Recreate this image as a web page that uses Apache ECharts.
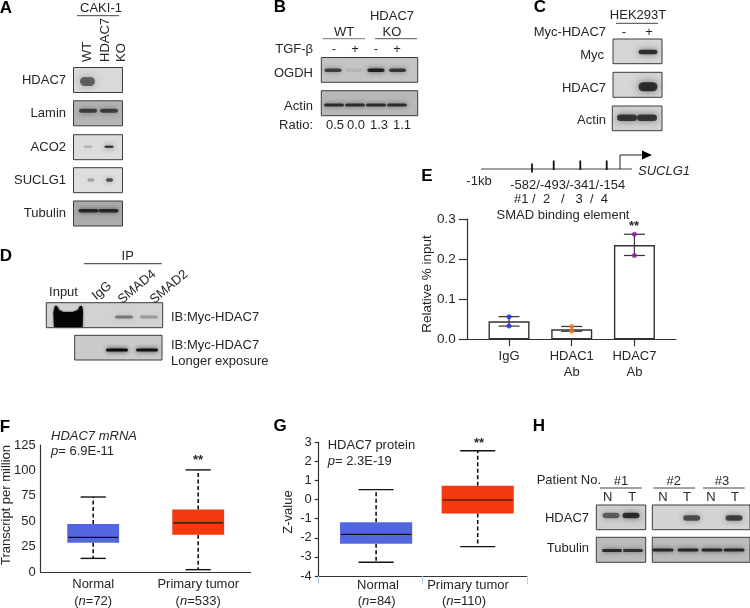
<!DOCTYPE html>
<html><head><meta charset="utf-8">
<style>html,body{margin:0;padding:0;background:#fff}#c{width:750px;height:608px}</style>
<script src="https://cdn.jsdelivr.net/npm/echarts@6/dist/echarts.min.js"></script>
</head><body><div id="c"></div>
<script>
// ---------- DATA ----------
// Panel E
const eCategories = ['IgG', 'HDAC1\nAb', 'HDAC7\nAb'];
const eMeans = [0.045, 0.025, 0.235];
const eHigh = [0.0565, 0.032, 0.262];
const eLow = [0.033, 0.020, 0.209];
const eColors = ['#1a30e8', '#f57a1f', '#8a1ea0'];
const eTicks = ['0.0', '0.1', '0.2', '0.3'];
// Panel F  [low, q1, median, q3, high]
const fCategories = ['Normal', 'Primary tumor'];
const fCounts = ['72', '533'];
const fNormal = [13.4, 28.7, 34, 47.3, 73.8];
const fTumor = [2.3, 36.6, 48.3, 61.4, 100.5];
// Panel G
const gCategories = ['Normal', 'Primary tumor'];
const gCounts = ['84', '110'];
const gNormal = [-3.28, -2.31, -1.82, -1.19, 0.52];
const gTumor = [-2.46, -0.73, -0.02, 0.73, 2.56];
// Blot band densities (0 = absent, 1 = black), one per lane
const aHDAC7 = [0.5, 0];
const aLamin = [0.62, 0.62];
const aACO2 = [0.2, 0.8];
const aSUCLG1 = [0.25, 0.6];
const aTubulin = [0.72, 0.72];
const bOGDH = [0.62, 0.08, 0.78, 0.66];
const bActin = [0.7, 0.7, 0.7, 0.7];
const cMyc = [0, 0.72];
const cHDAC7 = [0, 0.72];
const cActin = [0.68, 0.68];
const dShort = [0.4, 0.25];
const dLong = [0.92, 0.88];
const hHDAC7one = [0.5, 0.72];
const hHDAC7two = [0.58, 0.64];
const hTubulinOne = [0.72, 0.68];
const hTubulinTwo = [0.75, 0.75, 0.75, 0.75];

// ---------- drawing helpers ----------
const FONT = '"Liberation Sans", Arial, sans-serif';
const INK = '#262626';
const g = [];
function text(s, x, y, o) {
  o = o || {};
  g.push({ type: 'text', x, y, rotation: (o.rot || 0) * Math.PI / 180, z: 20, silent: true,
    style: { text: s, x: 0, y: 0, fill: o.fill || INK, align: o.align || 'center', verticalAlign: 'middle',
      font: `${o.italic ? 'italic ' : ''}${o.bold ? 'bold ' : ''}${o.size || 13}px ${FONT}` } });
}
function line(x1, y1, x2, y2, c, w) {
  g.push({ type: 'line', z: 15, silent: true, shape: { x1, y1, x2, y2 }, style: { stroke: c || '#444', lineWidth: w || 1 } });
}
function blot(x1, y1, x2, y2, bg) {
  g.push({ type: 'rect', z: 5, silent: true, shape: { x: x1, y: y1, width: x2 - x1, height: y2 - y1 },
    style: { fill: bg, stroke: '#3c3c3c', lineWidth: 1 } });
}
function band(cx, cy, w, h, density) {
  if (density <= 0.01) return;
  const col = `rgba(0,0,0,${density})`;
  g.push({ type: 'rect', z: 8, silent: true, shape: { x: cx - w / 2, y: cy - h / 2, width: w, height: h, r: h / 2 },
    style: { fill: col, shadowBlur: 4 + h * 0.5, shadowColor: col } });
}
function lanes(xs, y, w, h, dens) { xs.forEach((x, i) => band(x, y, w, h, dens[i])); }

// Panel letters
[['A', 6, 8], ['B', 280, 7], ['C', 540, 7], ['D', 6, 256], ['E', 427, 176], ['F', 5, 427], ['G', 280, 426], ['H', 539, 426]]
  .forEach(p => text(p[0], p[1], p[2], { bold: true, size: 17, fill: '#000' }));

// Panel A
text('CAKI-1', 101, 8); line(77, 15.7, 119, 15.7);
text('WT', 87, 62, { rot: 90, align: 'left' });
text('HDAC7', 105, 62, { rot: 90, align: 'left' });
text('KO', 121, 62, { rot: 90, align: 'left' });
[['HDAC7', 80, '#d9d9d9'], ['Lamin', 113.3, '#b4b4b4'], ['ACO2', 147.2, '#dcdcdc'], ['SUCLG1', 180.2, '#dedede'], ['Tubulin', 213.5, '#ababab']]
  .forEach(r => { text(r[0], 66, r[1], { align: 'right' }); blot(73.5, r[1] - 12.5, 122.5, r[1] + 12.5, r[2]); });
lanes([87.5, 115], 81.5, 15, 9, aHDAC7);
lanes([88, 109], 110.7, 18, 4, aLamin);
lanes([88, 109], 146.7, 9, 2, aACO2);
lanes([91, 109.5], 180, 7, 3.5, aSUCLG1);
lanes([88.5, 108.5], 210.8, 20, 3.5, aTubulin);

// Panel B
text('WT', 344, 32.5); text('HDAC7', 392, 16); text('KO', 392, 32.5);
line(322.7, 38.7, 365, 38.7, '#777'); line(375, 38.7, 417, 38.7, '#555');
text('TGF-β', 313, 49, { align: 'right' });
['-', '+', '-', '+'].forEach((s, i) => text(s, [334, 355, 376, 397][i], 49));
text('OGDH', 313, 73, { align: 'right' }); text('Actin', 313, 106, { align: 'right' });
text('Ratio:', 313, 125, { align: 'right' });
['0.5', '0.0', '1.3', '1.1'].forEach((s, i) => text(s, [335, 356, 379, 402][i], 125));
blot(321.3, 57.5, 417.7, 82.3, '#c4c4c4'); blot(321.3, 90.7, 417.7, 115.7, '#b8b8b8');
lanes([333, 354, 376, 397.5], 70.3, 17, 3.5, bOGDH);
lanes([334, 355, 376, 397], 105, 20, 3, bActin);

// Panel C
text('HEK293T', 638, 15.7); line(616, 23.3, 658, 23.3);
text('Myc-HDAC7', 606, 32, { align: 'right' });
text('-', 624, 32); text('+', 649, 32);
text('Myc', 604, 55, { align: 'right' }); text('HDAC7', 606, 88, { align: 'right' }); text('Actin', 606, 120, { align: 'right' });
blot(613, 39, 662, 63.7, '#d6d6d6'); blot(613, 72.3, 662, 97.3, '#d6d6d6'); blot(612.3, 106, 662, 130.7, '#d2d2d2');
lanes([625, 648], 52, 19, 4.5, cMyc);
lanes([625, 648], 86.7, 19, 9, cHDAC7);
lanes([627, 647], 117.7, 20, 6.5, cActin);

// Panel D
text('IP', 127.7, 256); line(84, 263.7, 161.7, 263.7, '#333');
text('Input', 63.5, 292);
text('IgG', 102, 291, { rot: 40 });
text('SMAD4', 137, 287, { rot: 40 });
text('SMAD2', 169, 287, { rot: 40 });
blot(46.3, 302.7, 162.7, 327.7, '#d2d2d2'); blot(74.7, 335.3, 162, 360, '#cbcbcb');
g.push({ type: 'polygon', z: 8, silent: true,
  shape: { points: [[54, 327], [53.5, 312], [55, 306], [57, 306], [59, 310], [63, 312], [73, 312], [78, 310], [80, 306], [82, 306], [83, 312], [82.5, 327]] },
  style: { fill: '#050505', shadowBlur: 2, shadowColor: '#111' } });
lanes([124, 149], 317, 18, 3, dShort);
lanes([117, 147], 350, 22, 3, dLong);
text('IB:Myc-HDAC7', 171, 317.3, { align: 'left' });
text('IB:Myc-HDAC7', 171, 345, { align: 'left' });
text('Longer exposure', 171, 361, { align: 'left' });

// Panel E promoter diagram
line(481, 169, 632, 169, '#444', 1);
[532, 553.7, 580.3, 606.7].forEach((x, i) => line(x, i === 0 ? 163.5 : 160.5, x, i === 0 ? 172.5 : 170, '#111', 1.8));
line(620, 169, 620, 155, '#222', 1); line(620, 155, 643, 155, '#222', 1);
g.push({ type: 'polygon', z: 15, silent: true, shape: { points: [[642, 150.5], [652, 155], [642, 159.5]] }, style: { fill: '#000' } });
text('SUCLG1', 638, 171, { align: 'left', italic: true });
text('-1kb', 479, 181);
text('-582/-493/-341/-154', 567.7, 185);
text('#1 /  2   /   3  /  4', 561, 199);
text('SMAD binding element', 563, 215);
text('**', 634, 226, { bold: true });
text('Relative % input', 427, 284, { rot: 90, size: 13.5 });

// Panel F annotation
text('HDAC7 mRNA', 51, 436.7, { align: 'left', italic: true });
g.push({ type: 'text', x: 51, y: 451.7, z: 20, silent: true,
  style: { x: 0, y: 0, verticalAlign: 'middle', align: 'left', text: '{i|p}{a|= 6.9E-11}',
    rich: { i: { font: `italic 13px ${FONT}`, fill: INK }, a: { font: `13px ${FONT}`, fill: INK } } } });
text('**', 198, 460, { bold: true });
text('Transcript per million', 6, 505, { rot: 90 });

// Panel G annotation
text('HDAC7 protein', 327.7, 445.7, { align: 'left' });
g.push({ type: 'text', x: 327.7, y: 461.7, z: 20, silent: true,
  style: { x: 0, y: 0, verticalAlign: 'middle', align: 'left', text: '{i|p}{a|= 2.3E-19}',
    rich: { i: { font: `italic 13px ${FONT}`, fill: INK }, a: { font: `13px ${FONT}`, fill: INK } } } });
text('**', 479, 443, { bold: true });
text('Z-value', 288, 512, { rot: 90 });
[378, 468].forEach((x, i) => text(gCategories[i], x, 585));
[376.7, 464].forEach((x, i) => g.push({ type: 'text', x, y: 601, z: 20, silent: true,
  style: { x: 0, y: 0, verticalAlign: 'middle', align: 'center', text: `{a|(}{i|n}{a|=${gCounts[i]})}`,
    rich: { i: { font: `italic 13px ${FONT}`, fill: INK }, a: { font: `13px ${FONT}`, fill: INK } } } }));

// Panel H
text('Patient No.', 536.7, 480.7, { align: 'left' });
text('#1', 621, 481); text('#2', 673.7, 481); text('#3', 722, 481);
line(600, 488, 641.7, 488); line(653.3, 488, 695, 488); line(703, 488, 744.7, 488);
['N', 'T', 'N', 'T', 'N', 'T'].forEach((s, i) => text(s, [607.7, 632.3, 663, 687, 711, 735][i], 497.5));
text('HDAC7', 589, 518, { align: 'right' }); text('Tubulin', 589, 548.5, { align: 'right' });
blot(596.3, 505, 645.7, 529.7, '#cfcfcf'); blot(652.3, 505, 750, 529.7, '#d4d4d4');
blot(596.3, 537.3, 645.7, 562.3, '#bcbcbc'); blot(652.3, 537.3, 750, 562.3, '#bcbcbc');
lanes([611, 631], 515.5, 17, 5.5, hHDAC7one);
lanes([691.7, 734], 518, 17, 5.5, hHDAC7two);
lanes([612, 633], 550.5, 20, 3, hTubulinOne);
lanes([663, 688, 712, 734], 550, 21, 3, hTubulinTwo);

// ---------- charts ----------
const axisLine = { onZero: false, lineStyle: { color: '#333', width: 1.2 } };
const lab = { color: INK, fontFamily: FONT, fontSize: 13 };
function boxItem(boxFrac, capFrac, colors) {
  return (params, api) => {
    const i = params.dataIndex;
    const xv = api.value(0);
    const vals = [api.value(1), api.value(2), api.value(3), api.value(4), api.value(5)];
    const cx = api.coord([xv, vals[2]])[0];
    const y = vals.map(v => api.coord([xv, v])[1]);
    const unit = api.size([1, 0])[0];
    const bw = unit * boxFrac, cw = unit * capFrac;
    const st = { stroke: '#111', lineWidth: 1.4 };
    const dash = { stroke: '#111', lineWidth: 1.6, lineDash: [4, 2.5] };
    return { type: 'group', children: [
      { type: 'line', shape: { x1: cx, y1: y[3], x2: cx, y2: y[4] }, style: dash },
      { type: 'line', shape: { x1: cx, y1: y[1], x2: cx, y2: y[0] }, style: dash },
      { type: 'line', shape: { x1: cx - cw / 2, y1: y[4], x2: cx + cw / 2, y2: y[4] }, style: st },
      { type: 'line', shape: { x1: cx - cw / 2, y1: y[0], x2: cx + cw / 2, y2: y[0] }, style: st },
      { type: 'rect', shape: { x: cx - bw / 2, y: y[3], width: bw, height: y[1] - y[3] }, style: { fill: colors[i] } },
      { type: 'line', shape: { x1: cx - bw / 2 + 1, y1: y[2], x2: cx + bw / 2 - 1, y2: y[2] }, style: { stroke: '#111', lineWidth: 1.2 } }
    ] };
  };
}
const boxColors = ['#5266e0', '#f4390e'];
const option = {
  animation: false,
  backgroundColor: '#fff',
  textStyle: { fontFamily: FONT },
  graphic: { elements: g },
  grid: [
    { left: 467.7, top: 219, width: 208.3, height: 120.3 },
    { left: 40.7, top: 445, width: 210, height: 127.7 },
    { left: 318.7, top: 442.3, width: 208.6, height: 133.7 }
  ],
  xAxis: [
    { gridIndex: 0, type: 'value', min: -0.659, max: 2.663, splitLine: { show: false }, axisLine,
      axisTick: { customValues: [0, 1, 2], length: 7, lineStyle: { color: '#333', width: 1.2 } },
      axisLabel: { ...lab, customValues: [0, 1, 2], margin: 9, lineHeight: 16, formatter: v => eCategories[Math.round(v)] || '' } },
    { gridIndex: 1, type: 'category', data: fCategories, axisLine, axisTick: { show: false },
      axisLabel: { ...lab, margin: 4, interval: 0,
        formatter: (v, i) => `{a|${v}}\n{a|(}{i|n}{a|=${fCounts[i]})}`,
        rich: { a: { ...lab, lineHeight: 17 }, i: { ...lab, fontStyle: 'italic', lineHeight: 17 } } } },
    { gridIndex: 2, type: 'value', min: -0.565, max: 1.488, splitLine: { show: false }, axisLine,
      axisTick: { customValues: [-0.565, 0.459, 1.488], length: 8, lineStyle: { color: '#b6cde6', width: 1 } },
      axisLabel: { show: false } }
  ],
  yAxis: [
    { gridIndex: 0, type: 'value', min: 0, max: 0.3, interval: 0.1, splitLine: { show: false }, axisLine: { show: true, ...axisLine },
      axisTick: { length: 9, lineStyle: { color: '#333', width: 1.2 } },
      axisLabel: { ...lab, fontSize: 13.5, margin: 12, formatter: v => eTicks[Math.round(v * 10)] } },
    { gridIndex: 1, type: 'value', min: 0, max: 125, interval: 25, splitLine: { show: false }, axisLine: { show: true, ...axisLine },
      axisTick: { length: 4, lineStyle: { color: '#333', width: 1.2 } }, axisLabel: { ...lab, margin: 5 } },
    { gridIndex: 2, type: 'value', min: -4, max: 3, interval: 1, splitLine: { show: false }, axisLine: { show: true, ...axisLine },
      axisTick: { length: 4, lineStyle: { color: '#333', width: 1.2 } }, axisLabel: { ...lab, margin: 7 } }
  ],
  series: [
    { type: 'bar', xAxisIndex: 0, yAxisIndex: 0, barWidth: 41, z: 2,
      data: eMeans.map((v, i) => [i, v]), itemStyle: { color: '#fff', borderColor: '#333', borderWidth: 1.4 } },
    { type: 'custom', xAxisIndex: 0, yAxisIndex: 0, z: 3, clip: false,
      data: eMeans.map((v, i) => [i, eLow[i], eHigh[i]]),
      encode: { x: 0, y: [1, 2] },
      renderItem: (p, api) => {
        const a = api.coord([api.value(0), api.value(1)]), b = api.coord([api.value(0), api.value(2)]);
        const s = { stroke: '#333', lineWidth: 1.2 };
        return { type: 'group', children: [
          { type: 'line', shape: { x1: a[0], y1: a[1], x2: b[0], y2: b[1] }, style: s },
          { type: 'line', shape: { x1: a[0] - 10.5, y1: a[1], x2: a[0] + 10.5, y2: a[1] }, style: s },
          { type: 'line', shape: { x1: b[0] - 10.5, y1: b[1], x2: b[0] + 10.5, y2: b[1] }, style: s }
        ] };
      } },
    { type: 'scatter', xAxisIndex: 0, yAxisIndex: 0, z: 4, symbolSize: 5,
      data: [...eHigh.map((v, i) => ({ value: [i, v], itemStyle: { color: eColors[i] } })),
             ...eLow.map((v, i) => ({ value: [i, v], itemStyle: { color: eColors[i] } }))] },
    { type: 'custom', xAxisIndex: 1, yAxisIndex: 1, clip: false,
      data: [[0, ...fNormal], [1, ...fTumor]], encode: { x: 0, y: [1, 2, 3, 4, 5] },
      renderItem: boxItem(0.494, 0.24, boxColors) },
    { type: 'custom', xAxisIndex: 2, yAxisIndex: 2, clip: false,
      data: [[0, ...gNormal], [1, ...gTumor]], encode: { x: 0, y: [1, 2, 3, 4, 5] },
      renderItem: boxItem(0.71, 0.345, boxColors) }
  ]
};
echarts.init(document.getElementById('c'), null, { renderer: 'canvas' }).setOption(option);
</script></body></html>
